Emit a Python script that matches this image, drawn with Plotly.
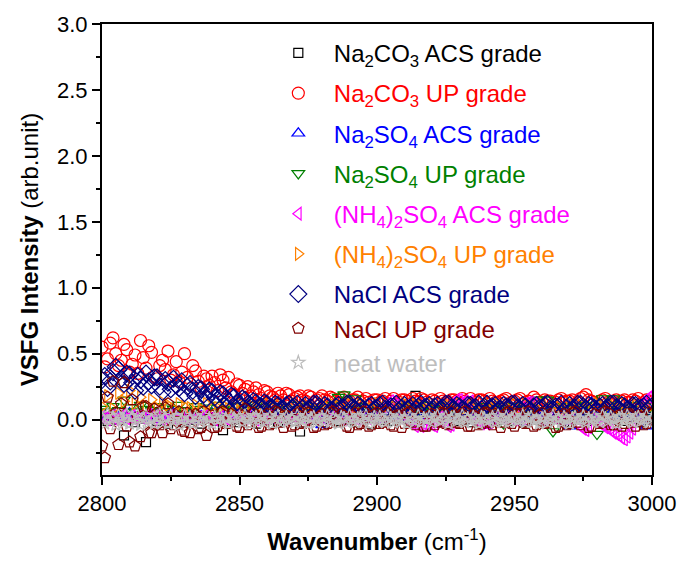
import plotly.graph_objects as go

# Wavenumber grids (cm^-1)
wn2 = list(range(2800, 3001, 2))   # 101 points
wn1 = list(range(2800, 3001, 1))   # 201 points

na2co3_acs = [
    0.02, -0.01, 0.03, 0.00, -0.12, 0.02, -0.02, 0.01, -0.17, 0.03,
    -0.01, 0.02, -0.03, 0.01, 0.03, -0.02, 0.00, 0.02, -0.03, 0.01,
    0.02, -0.01, -0.08, 0.03, 0.00, -0.02, 0.02, 0.01, -0.03, 0.02,
    0.00, 0.03, -0.02, 0.01, 0.02, -0.01, -0.09, 0.02, 0.00, 0.03,
    -0.02, 0.01, 0.02, -0.01, 0.03, 0.00, -0.02, 0.02, 0.01, -0.03,
    0.02, 0.00, 0.03, -0.01, 0.02, 0.01, -0.02, 0.18, 0.02, 0.00,
    0.03, -0.02, 0.01, 0.02, -0.01, 0.03, 0.00, -0.02, 0.02, 0.01,
    -0.03, 0.02, 0.00, 0.03, -0.01, 0.02, 0.01, -0.02, 0.03, 0.00,
    0.02, -0.01, 0.03, 0.01, -0.02, 0.02, 0.00, 0.03, -0.01, 0.02,
    0.01, -0.02, 0.03, 0.00, 0.02, -0.01, 0.03, 0.01, -0.02, 0.02,
    0.01,
]

na2co3_up = [
    0.55, 0.40, 0.46, 0.58, 0.62, 0.50, 0.41, 0.45, 0.57, 0.53,
    0.36, 0.42, 0.49, 0.35, 0.60, 0.47, 0.39, 0.56, 0.51, 0.33,
    0.31, 0.41, 0.45, 0.38, 0.52, 0.30, 0.34, 0.44, 0.29, 0.36,
    0.50, 0.32, 0.27, 0.41, 0.37, 0.29, 0.24, 0.33, 0.31, 0.26,
    0.33, 0.28, 0.22, 0.34, 0.30, 0.24, 0.32, 0.21, 0.19, 0.27,
    0.26, 0.20, 0.23, 0.25, 0.18, 0.21, 0.24, 0.19, 0.16, 0.22,
    0.21, 0.18, 0.17, 0.15, 0.20, 0.18, 0.15, 0.20, 0.19, 0.14,
    0.16, 0.17, 0.18, 0.15, 0.14, 0.18, 0.17, 0.13, 0.15, 0.16,
    0.18, 0.15, 0.14, 0.17, 0.16, 0.14, 0.13, 0.16, 0.17, 0.13,
    0.14, 0.15, 0.15, 0.17, 0.13, 0.14, 0.16, 0.13, 0.12, 0.15,
    0.15, 0.13, 0.14, 0.16, 0.12, 0.14, 0.16, 0.12, 0.13, 0.15,
    0.15, 0.14, 0.12, 0.16, 0.14, 0.13, 0.16, 0.15, 0.13, 0.12,
    0.15, 0.14, 0.12, 0.16, 0.14, 0.13, 0.13, 0.15, 0.15, 0.14,
    0.12, 0.16, 0.14, 0.13, 0.16, 0.12, 0.13, 0.15, 0.15, 0.14,
    0.12, 0.16, 0.14, 0.13, 0.13, 0.14, 0.15, 0.16, 0.12, 0.13,
    0.14, 0.15, 0.16, 0.12, 0.13, 0.14, 0.12, 0.17, 0.15, 0.13,
    0.13, 0.15, 0.14, 0.14, 0.12, 0.13, 0.15, 0.16, 0.13, 0.14,
    0.14, 0.15, 0.12, 0.13, 0.16, 0.17, 0.19, 0.15, 0.14, 0.13,
    0.12, 0.14, 0.15, 0.16, 0.13, 0.13, 0.14, 0.15, 0.12, 0.14,
    0.15, 0.13, 0.13, 0.15, 0.14, 0.16, 0.12, 0.13, 0.15, 0.14,
    0.13,
]

na2so4_acs = [
    0.03, 0.01, 0.04, 0.02, 0.00, 0.05, 0.02, 0.03, 0.01, 0.04,
    0.02, 0.00, 0.03, 0.05, 0.01, 0.02, 0.04, 0.00, 0.03, 0.02,
    0.05, 0.01, 0.03, 0.02, 0.04, 0.00, 0.02, 0.03, 0.01, 0.04,
    0.02, 0.05, 0.01, 0.03, 0.00, 0.02, 0.04, 0.01, 0.03, 0.02,
    -0.04, 0.03, 0.01, 0.04, 0.02, 0.00, 0.03, 0.05, 0.01, 0.02,
    0.04, 0.00, 0.02, 0.03, 0.01, 0.04, 0.02, 0.00, 0.03, 0.05,
    0.01, 0.02, 0.04, 0.00, 0.03, 0.02, 0.05, 0.01, 0.03, 0.02,
    0.04, 0.00, 0.02, 0.03, 0.01, 0.04, 0.02, -0.02, 0.03, 0.05,
    0.01, 0.02, 0.04, 0.00, 0.03, -0.05, 0.05, 0.01, 0.03, 0.13,
    0.04, 0.00, 0.02, 0.03, 0.01, 0.04, 0.02, 0.00, 0.03, -0.05,
    0.02,
]

na2so4_up = [
    0.08, 0.06, 0.10, 0.07, 0.15, 0.09, 0.06, 0.11, 0.08, 0.07,
    0.10, 0.06, 0.09, 0.08, 0.11, 0.07, 0.06, 0.10, 0.08, 0.09,
    0.06, 0.11, 0.07, 0.08, 0.10, 0.06, 0.09, 0.07, 0.11, 0.08,
    0.06, 0.10, 0.07, 0.09, 0.08, 0.11, 0.06, 0.10, 0.07, 0.08,
    0.09, 0.06, 0.11, 0.17, 0.19, 0.08, 0.16, 0.07, 0.10, 0.06,
    0.09, 0.08, 0.11, 0.07, 0.06, 0.10, 0.08, 0.09, 0.06, 0.11,
    0.07, 0.08, 0.10, 0.06, 0.09, 0.07, 0.11, 0.08, 0.06, 0.10,
    0.07, 0.09, 0.08, -0.03, 0.06, 0.10, 0.07, 0.08, 0.09, 0.15,
    0.06, 0.15, -0.09, 0.07, 0.10, 0.06, 0.09, 0.08, 0.11, 0.07,
    -0.11, 0.16, 0.08, 0.16, 0.06, 0.09, 0.07, 0.11, 0.08, 0.06,
    0.10,
]

nh4so4_acs = [
    0.02, 0.01, 0.00, 0.03, 0.03, 0.00, 0.01, 0.02, 0.04, 0.01,
    0.02, 0.03, 0.00, 0.02, 0.03, 0.01, 0.01, 0.04, 0.02, 0.00,
    0.04, 0.02, 0.00, 0.01, 0.02, 0.03, 0.03, 0.00, 0.01, 0.02,
    0.04, 0.01, 0.02, 0.03, 0.00, 0.02, 0.02, 0.04, 0.03, 0.01,
    0.01, 0.00, 0.02, 0.03, 0.04, 0.01, 0.00, 0.02, 0.02, 0.03,
    0.03, 0.00, 0.01, 0.02, 0.04, 0.01, 0.00, 0.03, 0.02, 0.01,
    0.01, 0.03, 0.02, 0.00, 0.04, 0.02, 0.00, 0.01, 0.02, 0.03,
    0.03, 0.01, 0.04, 0.02, 0.00, 0.03, 0.02, 0.01, 0.01, 0.04,
    0.03, 0.00, 0.01, 0.02, 0.02, 0.03, 0.04, 0.01, 0.00, 0.02,
    0.02, 0.03, 0.03, 0.00, 0.01, 0.02, 0.04, 0.01, 0.02, 0.03,
    0.00, 0.02, 0.03, 0.10, 0.12, 0.14, 0.13, 0.11, 0.02, 0.01,
    0.04, 0.02, 0.00, -0.03, -0.05, -0.04, -0.05, -0.03, -0.04, -0.02,
    -0.04, -0.05, 0.00, 0.02, 0.01, -0.03, -0.05, -0.04, 0.12, 0.15,
    0.15, 0.13, 0.14, 0.02, 0.14, 0.01, 0.02, 0.00, -0.03, -0.02,
    -0.03, -0.02, 0.01, 0.03, 0.04, 0.02, 0.00, 0.01, 0.03, 0.02,
    0.00, 0.02, 0.04, 0.01, 0.12, 0.13, 0.13, 0.12, 0.02, 0.03,
    0.00, 0.01, 0.02, 0.04, 0.03, 0.01, 0.00, 0.02, 0.03, 0.01,
    0.02, 0.00, 0.03, 0.01, -0.05, -0.07, -0.08, -0.06, 0.02, 0.03,
    0.00, 0.02, -0.04, -0.06, -0.06, -0.08, -0.10, -0.11, -0.12, -0.14,
    -0.15, -0.13, -0.10, -0.07, 0.03, 0.02, 0.08, 0.12, 0.15, 0.17,
    0.18,
]

nh4so4_up = [
    0.10, 0.18, 0.08, 0.20, 0.14, 0.22, 0.12, 0.17, 0.10, 0.15,
    0.09, 0.13, 0.11, 0.08, 0.12, 0.10, 0.09, 0.11, 0.08, 0.12,
    0.10, 0.09, 0.11, 0.08, 0.10, 0.12, 0.09, 0.11, 0.08, 0.10,
    0.12, 0.09, 0.11, 0.10, 0.08, 0.12, 0.09, 0.11, 0.10, 0.08,
    0.12, 0.09, 0.11, 0.10, 0.08, 0.12, 0.09, 0.11, 0.10, 0.08,
    0.12, 0.09, 0.11, 0.10, 0.08, 0.12, 0.09, 0.11, 0.10, 0.08,
    0.12, 0.09, 0.11, 0.10, 0.08, 0.12, 0.09, 0.11, 0.10, 0.08,
    0.12, 0.09, 0.11, 0.10, 0.08, 0.12, 0.09, 0.11, 0.10, 0.08,
    0.12, 0.09, 0.11, 0.10, 0.08, 0.12, 0.09, 0.11, 0.10, 0.08,
    0.12, 0.09, 0.11, 0.10, 0.08, 0.12, 0.09, 0.11, 0.10, 0.08,
    0.11,
]

nacl_acs = [
    0.30, 0.33, 0.24, 0.29, 0.36, 0.40, 0.38, 0.31, 0.27, 0.35,
    0.34, 0.28, 0.22, 0.33, 0.30, 0.25, 0.35, 0.29, 0.26, 0.32,
    0.32, 0.25, 0.21, 0.30, 0.28, 0.23, 0.31, 0.26, 0.24, 0.29,
    0.20, 0.25, 0.27, 0.22, 0.18, 0.24, 0.23, 0.19, 0.16, 0.22,
    0.21, 0.17, 0.15, 0.20, 0.19, 0.16, 0.14, 0.18, 0.17, 0.13,
    0.12, 0.16, 0.15, 0.12, 0.11, 0.14, 0.13, 0.10, 0.10, 0.13,
    0.12, 0.09, 0.09, 0.12, 0.11, 0.08, 0.08, 0.11, 0.12, 0.09,
    0.10, 0.12, 0.07, 0.09, 0.11, 0.08, 0.09, 0.12, 0.12, 0.10,
    0.08, 0.11, 0.10, 0.07, 0.07, 0.10, 0.11, 0.09, 0.09, 0.12,
    0.12, 0.09, 0.08, 0.11, 0.10, 0.08, 0.06, 0.10, 0.11, 0.08,
    0.09, 0.11, 0.12, 0.08, 0.08, 0.10, 0.10, 0.12, 0.07, 0.09,
    0.11, 0.08, 0.09, 0.11, 0.08, 0.10, 0.12, 0.09, 0.10, 0.11,
    0.07, 0.10, 0.11, 0.08, 0.09, 0.12, 0.12, 0.09, 0.08, 0.11,
    0.10, 0.08, 0.07, 0.11, 0.11, 0.09, 0.09, 0.12, 0.08, 0.10,
    0.12, 0.09, 0.10, 0.11, 0.07, 0.08, 0.11, 0.10, 0.09, 0.12,
    0.12, 0.09, 0.08, 0.11, 0.10, 0.08, 0.07, 0.10, 0.11, 0.09,
    0.09, 0.11, 0.12, 0.08, 0.08, 0.10, 0.10, 0.12, 0.06, 0.09,
    0.11, 0.08, 0.09, 0.12, 0.12, 0.10, 0.08, 0.11, 0.10, 0.09,
    0.07, 0.10, 0.11, 0.08, 0.09, 0.12, 0.12, 0.09, 0.08, 0.11,
    0.10, 0.08, 0.07, 0.11, 0.11, 0.09, 0.09, 0.10, 0.12, 0.09,
    0.10,
]

nacl_up = [
    -0.20, -0.29, 0.17, -0.07, 0.29, 0.05, -0.19, 0.12, 0.28, -0.05,
    -0.17, 0.15, -0.20, 0.02, -0.13, 0.10, 0.10, -0.10, -0.10, 0.08,
    0.05, -0.04, -0.10, 0.09, 0.12, -0.07, -0.04, 0.03, 0.06, -0.08,
    -0.09, 0.05, -0.10, 0.02, 0.04, -0.07, -0.06, 0.06, -0.12, 0.01,
    0.03, -0.06, -0.05, 0.05, 0.06, -0.03, -0.03, 0.04, 0.02, -0.05,
    -0.06, 0.03, 0.08, -0.04, -0.02, 0.05, 0.03, -0.06, -0.05, 0.02,
    0.04, -0.04, -0.03, 0.06, 0.05, -0.02, -0.06, 0.03, 0.02, -0.05,
    -0.04, 0.04, 0.06, -0.03, -0.02, 0.05, 0.03, -0.06, -0.05, 0.02,
    0.04, -0.04, -0.03, 0.05, 0.06, -0.02, -0.02, 0.04, 0.03, -0.05,
    -0.06, 0.03, 0.05, -0.04, -0.03, 0.06, 0.02, -0.05, -0.04, 0.04,
    0.05, -0.03, -0.02, 0.06, 0.04, -0.04, -0.05, 0.03, 0.03, -0.06,
    -0.03, 0.05, 0.06, -0.02, -0.04, 0.04, 0.02, -0.05, -0.05, 0.03,
    0.04, -0.04, -0.02, 0.05, 0.05, -0.03, -0.04, 0.06, 0.03, -0.02,
    -0.03, 0.04, 0.06, -0.05, -0.05, 0.03, 0.02, -0.04, -0.03, 0.05,
    0.05, -0.02, -0.04, 0.04, 0.03, -0.06, -0.02, 0.05, 0.06, -0.03,
    -0.05, 0.04, 0.04, -0.02, -0.03, 0.06, 0.02, -0.05, -0.04, 0.03,
    0.05, -0.03, -0.02, 0.04, 0.03, -0.06, -0.05, 0.02, 0.04, -0.04,
    -0.03, 0.05, 0.06, -0.02, -0.04, 0.03, 0.02, -0.06, -0.05, 0.04,
    0.03, -0.03, -0.02, 0.06, 0.05, -0.04, -0.04, 0.02, 0.03, -0.05,
    -0.03, 0.04, 0.04, -0.02, -0.05, 0.03, 0.02, -0.04, -0.03, 0.05,
    0.04,
]

neat_water = [
    0.01, -0.03, 0.04, -0.01, 0.02, -0.04, 0.03, 0.00, -0.02, 0.04,
    -0.03, 0.02, -0.01, 0.03, -0.04, 0.01, 0.03, -0.02, 0.00, -0.03,
    0.02, 0.04, -0.02, 0.01, -0.03, 0.03, -0.01, 0.02, -0.04, 0.00,
    0.03, -0.02, 0.01, -0.03, 0.02, 0.00, -0.01, 0.03, -0.02, 0.01,
    -0.03, 0.02, 0.00, 0.03, -0.02, 0.01, -0.03, 0.02, 0.01, -0.01,
    0.02, -0.02, 0.03, 0.00, -0.03, 0.01, 0.02, -0.01, 0.03, -0.02,
    0.00, 0.02, -0.03, 0.01, 0.03, -0.02, 0.00, 0.02, -0.01, 0.01,
    -0.02, 0.03, 0.00, -0.01, 0.02, -0.03, 0.01, 0.02, -0.02, 0.00,
    0.02, -0.01, 0.03, -0.02, 0.01, 0.00, -0.03, 0.02, 0.01, -0.02,
    0.03, 0.00, -0.02, 0.01, 0.02, -0.01, 0.03, -0.03, 0.00, 0.02,
    -0.01, 0.02, 0.00, -0.02, 0.03, 0.01, -0.02, 0.00, 0.02, -0.01,
    0.01, -0.03, 0.02, 0.00, -0.01, 0.03, -0.02, 0.01, 0.00, 0.02,
    -0.02, 0.01, 0.03, -0.01, 0.00, 0.02, -0.03, 0.01, 0.02, -0.01,
    0.00, 0.03, -0.02, 0.01, -0.01, 0.02, 0.00, -0.03, 0.02, 0.01,
    -0.01, 0.00, 0.02, -0.02, 0.03, 0.00, -0.01, 0.02, -0.02, 0.01,
    0.02, -0.01, 0.00, 0.03, -0.02, 0.01, 0.02, -0.01, 0.00, -0.03,
    0.01, 0.02, -0.02, 0.00, 0.03, -0.01, 0.01, -0.02, 0.02, 0.00,
    -0.03, 0.01, 0.02, -0.01, 0.00, 0.03, -0.02, 0.01, -0.01, 0.02,
    0.00, -0.02, 0.03, 0.01, -0.01, 0.02, 0.00, -0.03, 0.01, 0.02,
    -0.01, 0.03, 0.00, -0.02, 0.01, 0.02, -0.01, 0.00, 0.03, -0.02,
    0.01,
]

series = [
    ("Na<sub>2</sub>CO<sub>3</sub> ACS grade", wn2, na2co3_acs, "#000000", "square-open", 9, "g1"),
    ("Na<sub>2</sub>CO<sub>3</sub> UP grade", wn1, na2co3_up, "#ff0000", "circle-open", 12, "g2"),
    ("Na<sub>2</sub>SO<sub>4</sub> ACS grade", wn2, na2so4_acs, "#0000ff", "triangle-up-open", 11, "g3"),
    ("Na<sub>2</sub>SO<sub>4</sub> UP grade", wn2, na2so4_up, "#008000", "triangle-down-open", 11, "g4"),
    ("(NH<sub>4</sub>)<sub>2</sub>SO<sub>4</sub> ACS grade", wn1, nh4so4_acs, "#ff00ff", "triangle-left-open", 11, "g5"),
    ("(NH<sub>4</sub>)<sub>2</sub>SO<sub>4</sub> UP grade", wn2, nh4so4_up, "#ff8000", "triangle-right-open", 11, "g6"),
    ("NaCl ACS grade", wn1, nacl_acs, "#000080", "diamond-open", 13, "g7"),
    ("NaCl UP grade", wn1, nacl_up, "#800000", "pentagon-open", 12, "g7"),
    ("neat water", wn1, neat_water, "#bdbdbd", "star-open", 10, "g7"),
]

fig = go.Figure()
for name, xs, ys, col, sym, sz, grp in series:
    fig.add_trace(go.Scatter(
        x=xs, y=ys, mode="markers", legendgroup=grp,
        name=f"<span style='color:{col}'>{name}</span>",
        marker=dict(symbol=sym, size=sz, color=col, line=dict(width=1.2, color=col)),
    ))

axis_common = dict(
    showline=True, linecolor="black", linewidth=2, mirror=True,
    ticks="outside", ticklen=8, tickwidth=2, tickcolor="black",
    showgrid=False, zeroline=False,
    tickfont=dict(size=22, color="black"),
)

fig.update_xaxes(
    range=[2800, 3000], tick0=2800, dtick=50,
    minor=dict(ticks="outside", ticklen=4, tickwidth=2, dtick=25, tickcolor="black"),
    title=dict(text="<b>Wavenumber</b> (cm<sup>-1</sup>)", font=dict(size=24, color="black"), standoff=18),
    **axis_common,
)
fig.update_yaxes(
    range=[-0.42, 3.0], tick0=0, dtick=0.5, tickformat=".1f",
    minor=dict(ticks="outside", ticklen=4, tickwidth=2, dtick=0.25, tickcolor="black"),
    title=dict(text="<b>VSFG Intensity</b> (arb.unit)", font=dict(size=24, color="black"), standoff=12),
    **axis_common,
)

fig.update_layout(
    width=688, height=565,
    margin=dict(l=102, r=32, t=24, b=90),
    paper_bgcolor="white", plot_bgcolor="white",
    font=dict(family="Liberation Sans, Arial, sans-serif", color="black"),
    legend=dict(
        x=0.2924, y=0.985, xanchor="left", yanchor="top",
        bgcolor="rgba(0,0,0,0)", borderwidth=0,
        font=dict(size=24), itemwidth=61, tracegroupgap=6,
    ),
    showlegend=True,
)

fig.write_html("out.html")
